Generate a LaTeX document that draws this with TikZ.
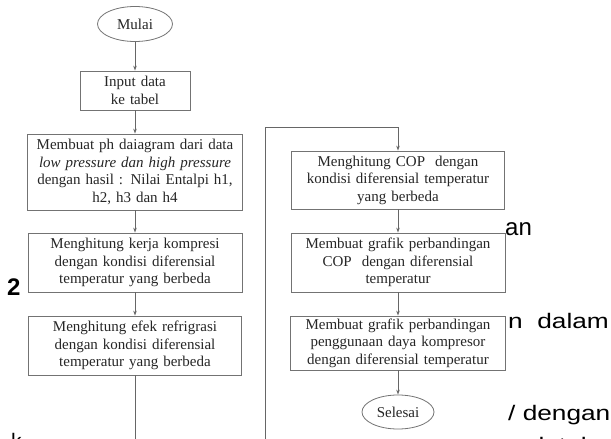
\documentclass[tikz,border=0pt]{standalone}
\usepackage{fontspec}
\setmainfont{Liberation Serif}
\newfontfamily\bgfont{Liberation Sans}
\usetikzlibrary{shapes.geometric,arrows.meta}
\begin{document}
\begin{tikzpicture}[x={(1pt,0)},y={(0,-1pt)},
  pbox/.style={draw=black!55, line width=0.8pt, rectangle, align=center,
    inner xsep=0pt, inner ysep=0pt, text width=#1, minimum width=#1,
    text=black!85, font=\fontsize{15}{17.5}\selectfont},
  term/.style={draw=black!55, line width=0.8pt, ellipse, inner sep=0pt,
    minimum width=75pt, minimum height=35pt, text=black!85,
    font=\fontsize{15}{17.5}\selectfont},
  flow/.style={draw=black!60, line width=0.8pt, -{Stealth[length=5pt,width=3.5pt]}},
  plain/.style={draw=black!60, line width=0.8pt},
  bg/.style={anchor=base west, inner sep=0pt, text=black, font=\bgfont\fontsize{21}{25}\selectfont}
]
\useasboundingbox (0,0) rectangle (611,439);
\clip (0,0) rectangle (611,439);
\fill[white] (0,0) rectangle (611,439);

% background fragments
\node[bg, font=\bgfont\fontsize{24}{28}\selectfont] (t1) at (505,235) {an};
\node[bg] (t2) at (508,328) {\scalebox{1.25}[1]{n\ \ dalam}};
\node[bg] (t3) at (508,420) {\scalebox{1.25}[1]{/ dengan}};
\node[bg] (t4) at (515,452) {\scalebox{1.25}[1]{nd\ \ tube}};
\node[bg, font=\bgfont\bfseries\fontsize{24}{28}\selectfont] (t5) at (7,295) {2};
\node[bg] (t6) at (11,448) {k};

% left column
\node[term] (mulai) at (135,24) {Mulai};
\node[pbox=110pt, minimum height=39pt] (input) at (135,90.5) {Input data\\ke tabel};
\node[pbox=215pt, minimum height=76pt] (ph) at (135,172) {Membuat ph daiagram dari data\\\textit{low pressure dan high pressure}\\dengan hasil : Nilai Entalpi h1,\\h2, h3 dan h4};
\node[pbox=214pt, minimum height=59pt] (kerja) at (135,262.5) {Menghitung kerja kompresi\\dengan kondisi diferensial\\temperatur yang berbeda};
\node[pbox=213pt, minimum height=59pt] (efek) at (135,345.5) {Menghitung efek refrigrasi\\dengan kondisi diferensial\\temperatur yang berbeda};

% right column
\node[pbox=213pt, minimum height=58pt] (cop) at (398,180) {Menghitung COP\ \ dengan\\kondisi diferensial temperatur\\yang berbeda};
\node[pbox=214pt, minimum height=59pt] (grafcop) at (398,262.5) {Membuat grafik perbandingan\\COP\ \ dengan diferensial\\temperatur};
\node[pbox=215pt, minimum height=54pt] (daya) at (398,343) {Membuat grafik perbandingan\\penggunaan daya kompresor\\dengan diferensial temperatur};
\node[term, minimum width=72pt, minimum height=34pt] (selesai) at (398,412) {Selesai};

% connectors
\coordinate (bot) at (0,440);
\coordinate (lp) at (265,440);
\coordinate (tp) at (265,127);
\draw[flow] (mulai) -- (input);
\draw[flow] (input) -- (ph);
\draw[flow] (ph) -- (kerja);
\draw[flow] (kerja) -- (efek);
\draw[plain] (efek.south) -- (efek.south |- bot);
\draw[flow] (lp) -- (tp) -| (cop.north);
\draw[flow] (cop) -- (grafcop);
\draw[flow] (grafcop) -- (daya);
\draw[flow] (daya) -- (selesai);
\end{tikzpicture}
\end{document}
